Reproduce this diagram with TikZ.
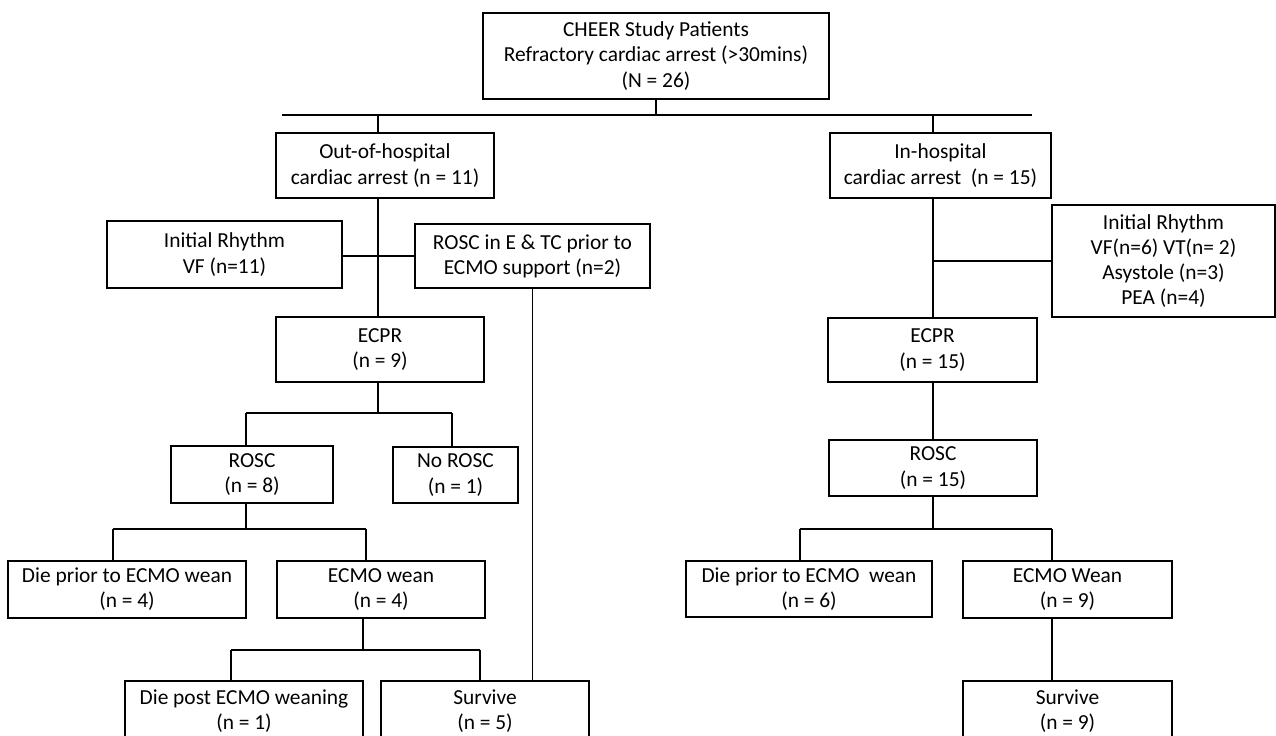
\documentclass[tikz,border=0pt]{standalone}
\usepackage{fontspec}
\setmainfont{Carlito}
\usepackage{tikz}

\begin{document}
\begin{tikzpicture}[x=0.5pt,y=-0.5pt,line width=0.7pt,
    box/.style={draw,align=center,inner sep=0pt,font=\fontsize{10.7}{12.6}\selectfont}]
    \clip (0,0) rectangle (1276,735);
    % boxes
    \node[box,minimum width=173pt,minimum height=43pt] (top) at (656,56) {CHEER Study Patients\\Refractory cardiac arrest (>30mins)\\(N = 26)};
    \node[box,minimum width=109pt,minimum height=32.5pt] (ooh) at (385,165.5) {Out-of-hospital\\cardiac arrest (n = 11)};
    \node[box,minimum width=110.5pt,minimum height=32.5pt] (ih) at (940.5,165.5) {In-hospital\\cardiac arrest\ \ (n = 15)};
    \node[box,minimum width=117.5pt,minimum height=33.5pt] (irl) at (224.5,254.5) {Initial Rhythm\\VF (n=11)};
    \node[box,minimum width=117.5pt,minimum height=32pt] (retc) at (532.5,256) {ROSC in E \& TC prior to\\ECMO support (n=2)};
    \node[box,minimum width=111.5pt,minimum height=56pt] (irr) at (1163.5,261) {Initial Rhythm\\VF(n=6) VT(n= 2)\\Asystole (n=3)\\PEA (n=4)};
    \node[box,minimum width=104pt,minimum height=32.5pt] (ecprL) at (380,349.5) {ECPR\\(n = 9)};
    \node[box,minimum width=104.5pt,minimum height=32pt] (ecprR) at (932.5,350) {ECPR\\(n = 15)};
    \node[box,minimum width=81pt,minimum height=28.5pt] (roscL) at (252,474.5) {ROSC\\(n = 8)};
    \node[box,minimum width=62.5pt,minimum height=28pt] (norosc) at (455.5,475) {No ROSC\\(n = 1)};
    \node[box,minimum width=104pt,minimum height=28pt] (roscR) at (933,468) {ROSC\\(n = 15)};
    \node[box,minimum width=119pt,minimum height=28.5pt] (dieL) at (127,589.5) {Die prior to ECMO wean\\(n = 4)};
    \node[box,minimum width=104pt,minimum height=28.5pt] (weanL) at (381,589.5) {ECMO wean\\(n = 4)};
    \node[box,minimum width=123pt,minimum height=28pt] (dieR) at (809,589) {Die prior to ECMO\ \ wean\\(n = 6)};
    \node[box,minimum width=104.5pt,minimum height=28.5pt] (weanR) at (1067.5,589.5) {ECMO Wean\\(n = 9)};
    \node[box,minimum width=119pt,minimum height=30pt] (diepost) at (244,711) {Die post ECMO weaning\\(n = 1)};
    \node[box,minimum width=104pt,minimum height=30pt] (survL) at (485,711) {Survive\\(n = 5)};
    \node[box,minimum width=104.5pt,minimum height=30pt] (survR) at (1067.5,711) {Survive\\(n = 9)};

    % branch points
    \coordinate (j1a) at (282,115);
    \coordinate (j1b) at (1032,115);
    \coordinate (j1l) at (378,115);
    \coordinate (j1r) at (933,115);
    \coordinate (j2l) at (246,413);
    \coordinate (j2r) at (452,413);
    \coordinate (j3l) at (113,529);
    \coordinate (j3r) at (366,529);
    \coordinate (j4m) at (363,650);
    \coordinate (j4l) at (231,650);
    \coordinate (j4r) at (480,650);
    \coordinate (j5l) at (800,529);
    \coordinate (j5r) at (1052,529);

    % lines
    \draw (top.south) -- (top.south |- j1l);
    \draw (j1a) -- (j1b);
    \draw (j1l) -- (j1l |- ooh.north);
    \draw (j1r) -- (j1r |- ih.north);
    \draw (ooh.south -| j1l) -- (j1l |- ecprL.north);
    \draw (irl.east |- retc.west) -- (retc.west);
    \draw (retc.south) -- (retc.south |- survL.north);
    \draw (ih.south -| j1r) -- (j1r |- ecprR.north);
    \draw (irr.west) -- (irr.west -| j1r);
    \draw (ecprL.south -| j1l) -- (j1l |- j2l);
    \draw (j2l) -- (j2r);
    \draw (j2l) -- (j2l |- roscL.north);
    \draw (j2r) -- (j2r |- norosc.north);
    \draw (roscL.south -| j2l) -- (j2l |- j3l);
    \draw (j3l) -- (j3r);
    \draw (j3l) -- (j3l |- dieL.north);
    \draw (j3r) -- (j3r |- weanL.north);
    \draw (weanL.south -| j4m) -- (j4m);
    \draw (j4l) -- (j4r);
    \draw (j4l) -- (j4l |- diepost.north);
    \draw (j4r) -- (j4r |- survL.north);
    \draw (ecprR.south -| j1r) -- (j1r |- roscR.north);
    \draw (roscR.south -| j1r) -- (j1r |- j5l);
    \draw (j5l) -- (j5r);
    \draw (j5l) -- (j5l |- dieR.north);
    \draw (j5r) -- (j5r |- weanR.north);
    \draw (weanR.south -| j5r) -- (j5r |- survR.north);
\end{tikzpicture}
\end{document}
